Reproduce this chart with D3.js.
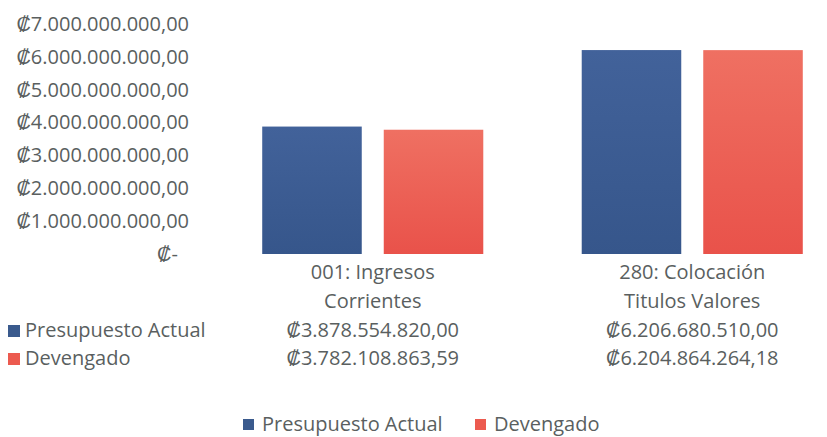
<!DOCTYPE html>
<html><head><meta charset="utf-8">
<script src="https://cdn.jsdelivr.net/npm/d3@7"></script>
<style>body{margin:0;background:#fff}svg{display:block}</style>
</head><body>
<svg id="c" width="827" height="437"></svg>
<script>
const categories = [["001: Ingresos","Corrientes"],["280: Colocación","Titulos Valores"]];
const seriesNames = ["Presupuesto Actual","Devengado"];
const presupuesto = [3878554820.00, 6206680510.00];
const devengado = [3782108863.59, 6204864264.18];
const presupuestoLabels = ["₡3.878.554.820,00","₡6.206.680.510,00"];
const devengadoLabels = ["₡3.782.108.863,59","₡6.204.864.264,18"];
const tickValues = [0,1e9,2e9,3e9,4e9,5e9,6e9,7e9];
const tickLabels = ["₡-","₡1.000.000.000,00","₡2.000.000.000,00","₡3.000.000.000,00","₡4.000.000.000,00","₡5.000.000.000,00","₡6.000.000.000,00","₡7.000.000.000,00"];
const colors = ["#3a5a8d","#ec5a4f"];
const gradStops = [["#42629a","#36568b"],["#ef7062","#e9524a"]];
const textColor = "#5a5f5f";
const font = "'Open Sans', sans-serif";
const fs = "20px";

const svg = d3.select("#c");
const defs = svg.append("defs");
gradStops.forEach((g,s)=>{
  const lg = defs.append("linearGradient").attr("id","g"+s).attr("x1",0).attr("y1",0).attr("x2",0).attr("y2",1);
  lg.append("stop").attr("offset","0%").attr("stop-color",g[0]);
  lg.append("stop").attr("offset","100%").attr("stop-color",g[1]);
});

const y = d3.scaleLinear().domain([0,7e9]).range([254,24]);
const x0 = d3.scaleBand().domain([0,1]).range([213,852]);
const x1 = d3.scaleBand().domain([0,1]).range([0,x0.bandwidth()]).paddingInner(0.181).paddingOuter(0.405);

// y axis labels
const yAxis = d3.axisLeft(y).tickValues(tickValues).tickFormat((d,i)=>tickLabels[i]).tickSize(0).tickPadding(0);
const ga = svg.append("g").attr("transform","translate(189,0)").call(yAxis);
ga.select(".domain").remove();
ga.selectAll("text").attr("fill",textColor).style("font-family",font).style("font-size",fs)
  .attr("dx",(d)=>d===0?-11:0);

const series = [presupuesto, devengado];
series.forEach((vals,s)=>{
  svg.append("g").selectAll("rect").data(vals).join("rect")
    .attr("x",(d,i)=>x0(i)+x1(s))
    .attr("width",x1.bandwidth())
    .attr("y",d=>y(d))
    .attr("height",d=>y(0)-y(d))
    .attr("fill","url(#g"+s+")");
});

// category labels
categories.forEach((lines,i)=>{
  const cx = x0(i)+x0.bandwidth()/2;
  lines.forEach((ln,j)=>{
    svg.append("text").attr("x",cx).attr("y",279+j*29).attr("text-anchor","middle")
      .attr("fill",textColor).style("font-family",font).style("font-size",fs).text(ln);
  });
});

// data table
const rowY = [337,365];
const rowLabels = [presupuestoLabels, devengadoLabels];
seriesNames.forEach((nm,s)=>{
  svg.append("rect").attr("x",8).attr("y",rowY[s]-12).attr("width",12).attr("height",12).attr("fill",colors[s]);
  svg.append("text").attr("x",25).attr("y",rowY[s]).attr("fill",textColor)
    .style("font-family",font).style("font-size",fs).text(nm);
  rowLabels[s].forEach((lab,i)=>{
    svg.append("text").attr("x",x0(i)+x0.bandwidth()/2).attr("y",rowY[s]).attr("text-anchor","middle")
      .attr("fill",textColor).style("font-family",font).style("font-size",fs).text(lab);
  });
});

// legend
const legX = [243,475];
seriesNames.forEach((nm,s)=>{
  svg.append("rect").attr("x",legX[s]).attr("y",419).attr("width",11).attr("height",11).attr("fill",colors[s]);
  svg.append("text").attr("x",legX[s]+19).attr("y",431).attr("fill",textColor)
    .style("font-family",font).style("font-size",fs).text(nm);
});
</script>
</body></html>
